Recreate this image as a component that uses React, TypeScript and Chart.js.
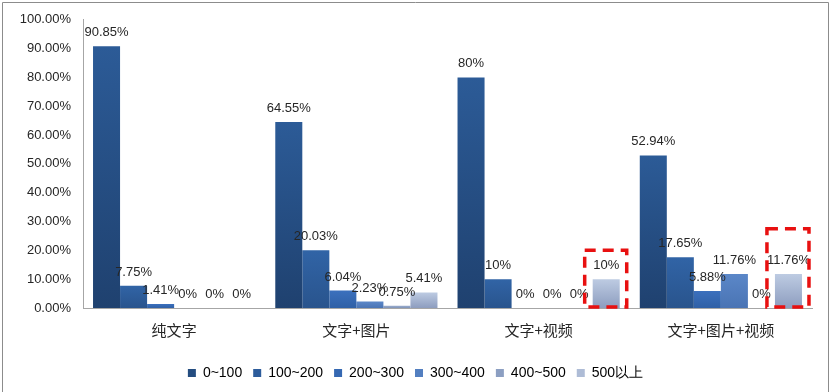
import React, { useEffect, useRef } from "react";
import { Chart, registerables } from "chart.js";

Chart.register(...registerables);

const categories = ["纯文字", "文字+图片", "文字+视频", "文字+图片+视频"];
const seriesNames = ["0~100", "100~200", "200~300", "300~400", "400~500", "500以上"];
const s0_100 = [90.85, 64.55, 80, 52.94];
const s100_200 = [7.75, 20.03, 10, 17.65];
const s200_300 = [1.41, 6.04, 0, 5.88];
const s300_400 = [0, 2.23, 0, 11.76];
const s400_500 = [0, 0.75, 0, 0];
const s500plus = [0, 5.41, 10, 11.76];
const yTicks = [0, 10, 20, 30, 40, 50, 60, 70, 80, 90, 100];
// highlighted (dashed red box) bars of the 500以上 series: category index and box top value
const highlightCats = [2, 3];
const highlightTops = [20, 27.5];

const seriesValues = [s0_100, s100_200, s200_300, s300_400, s400_500, s500plus];
const gradTop = ["#2c5b97", "#3164a6", "#3b70bd", "#5b87c8", "#9aaccd", "#bdcbe2"];
const gradBottom = ["#1f416f", "#29548d", "#2f60a6", "#4a74b4", "#7f93b8", "#8d9dbf"];
const legendColors = ["#244d80", "#2d5c9b", "#3568b2", "#537fc0", "#8c9fc2", "#aebcd6"];

const fmt = (v: number) => (Number.isInteger(v) ? `${v}%` : `${v.toFixed(2)}%`);

export default function App() {
  const ref = useRef<HTMLCanvasElement>(null);
  useEffect(() => {
    document.body.style.margin = "0";
    const canvas = ref.current!;
    const labelPlugin = {
      id: "valueLabels",
      afterDatasetsDraw(chart: any) {
        const ctx = chart.ctx;
        ctx.save();
        ctx.font = '13px "Liberation Sans", Arial, sans-serif';
        ctx.fillStyle = "#262626";
        ctx.textAlign = "center";
        ctx.textBaseline = "alphabetic";
        chart.data.datasets.forEach((ds: any, di: number) => {
          const meta = chart.getDatasetMeta(di);
          meta.data.forEach((bar: any, i: number) => {
            ctx.fillText(fmt(ds.data[i]), bar.x, bar.y - 10);
          });
        });
        // dashed highlight boxes
        const meta = chart.getDatasetMeta(5);
        const y = chart.scales.y;
        ctx.strokeStyle = "#e81010";
        ctx.lineWidth = 3.5;
        ctx.setLineDash([11, 7]);
        highlightCats.forEach((ci, k) => {
          const bar: any = meta.data[ci];
          const left = bar.x - bar.width / 2 - 8;
          const right = bar.x + bar.width / 2 + 7;
          const top = y.getPixelForValue(highlightTops[k]);
          const bottom = y.getPixelForValue(0) - 1;
          ctx.strokeRect(left, top, right - left, bottom - top);
        });
        ctx.restore();
      },
      beforeDraw(chart: any) {
        const ctx = chart.ctx;
        ctx.save();
        ctx.fillStyle = "#ffffff";
        ctx.fillRect(0, 0, chart.width, chart.height);
        ctx.strokeStyle = "#8c8c8c";
        ctx.lineWidth = 1;
        ctx.beginPath();
        ctx.moveTo(2.5, chart.height + 5);
        ctx.lineTo(2.5, 2.5);
        ctx.lineTo(828.5, 2.5);
        ctx.lineTo(828.5, chart.height + 5);
        ctx.stroke();
        ctx.restore();
      },
    };

    const chart = new Chart(canvas, {
      type: "bar",
      data: {
        labels: categories,
        datasets: seriesNames.map((name, si) => ({
          label: name,
          data: seriesValues[si],
          backgroundColor: (c: any) => {
            if (c.type !== "data") return legendColors[si];
            const ys = c.chart.scales.y;
            if (!ys) return legendColors[si];
            const top = ys.getPixelForValue(c.raw);
            const bottom = ys.getPixelForValue(0);
            if (!isFinite(top) || !isFinite(bottom) || bottom - top < 1) return gradBottom[si];
            const g = c.chart.ctx.createLinearGradient(0, top, 0, bottom);
            g.addColorStop(0, gradTop[si]);
            g.addColorStop(1, gradBottom[si]);
            return g;
          },
          borderWidth: 0,
          categoryPercentage: 0.89,
          barPercentage: 1,
        })),
      },
      options: {
        responsive: false,
        animation: false,
        events: [],
        layout: { padding: { top: 18, left: 19, right: 19, bottom: 2 } },
        plugins: {
          tooltip: { enabled: false },
          legend: {
            position: "bottom",
            labels: {
              boxWidth: 8,
              boxHeight: 8,
              padding: 11,
              color: "#262626",
              font: { family: '"Liberation Sans", Arial, sans-serif', size: 14 },
              generateLabels: () =>
                seriesNames.map((n, i) => ({
                  text: n,
                  fillStyle: legendColors[i],
                  strokeStyle: legendColors[i],
                  lineWidth: 0,
                  hidden: false,
                  datasetIndex: i,
                })),
            },
          },
        },
        scales: {
          x: {
            grid: { display: false, drawTicks: false },
            border: { display: true, color: "#a6a6a6", width: 1 },
            ticks: {
              color: "#262626",
              padding: 13,
              font: { family: '"Noto Sans CJK SC", sans-serif', size: 15 },
            },
            afterFit: (s: any) => {
              s.height = 47;
            },
          },
          y: {
            min: 0,
            max: 100,
            grid: { display: false, drawTicks: false },
            border: { display: true, color: "#a6a6a6", width: 1 },
            afterBuildTicks: (s: any) => {
              s.ticks = yTicks.map((v) => ({ value: v }));
            },
            afterFit: (s: any) => {
              s.width = 64;
            },
            ticks: {
              color: "#262626",
              padding: 12,
              font: { family: '"Liberation Sans", Arial, sans-serif', size: 13 },
              callback: (v: any) => `${Number(v).toFixed(2)}%`,
            },
          },
        },
      },
      plugins: [labelPlugin],
    } as any);
    return () => chart.destroy();
  }, []);
  return <canvas ref={ref} width={831} height={392} style={{ display: "block" }} />;
}
